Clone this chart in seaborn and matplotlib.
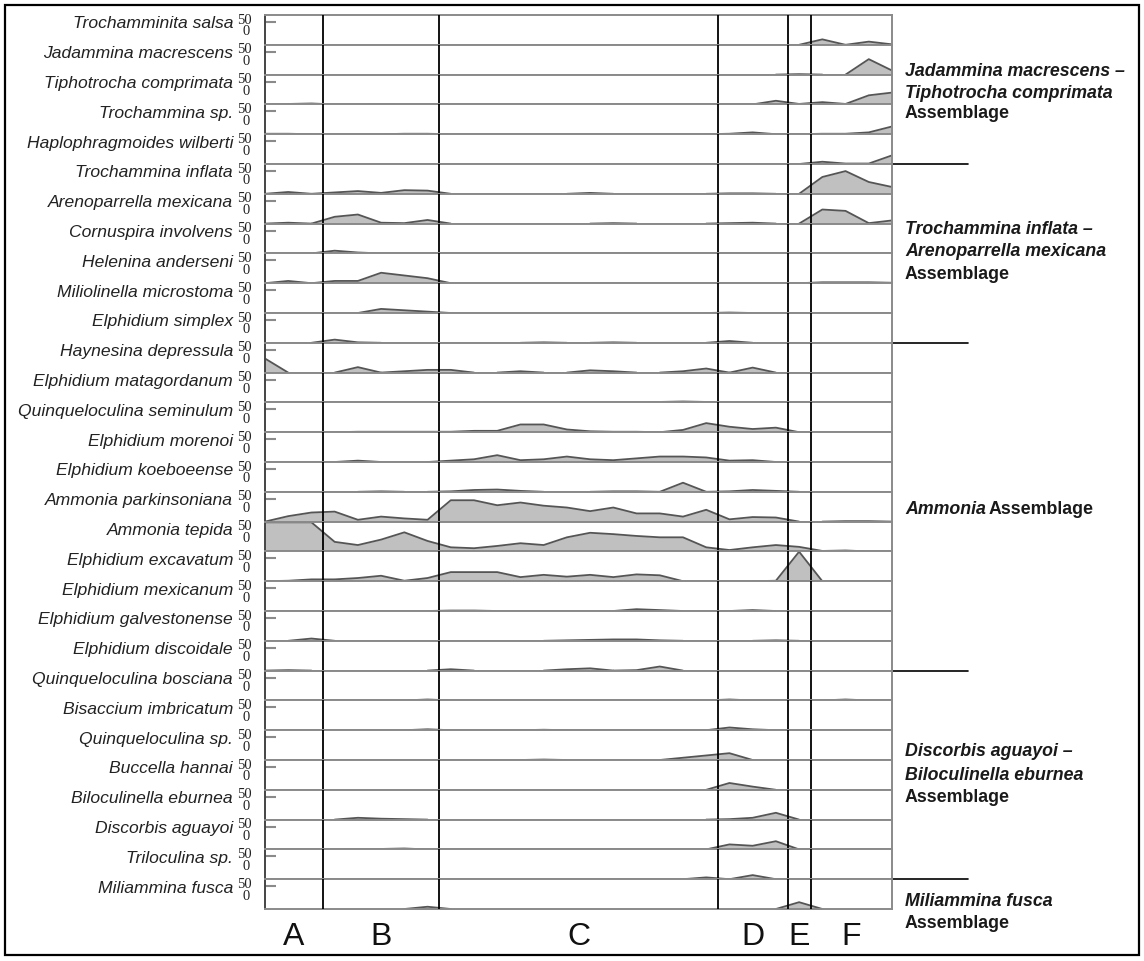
import numpy as np
import pandas as pd
import seaborn as sns
import matplotlib.pyplot as plt
from matplotlib.patches import Rectangle
from matplotlib.transforms import blended_transform_factory

# 28 samples along the transect, grouped in zones A-F
samples = np.arange(28)
zone_names = ['A', 'B', 'C', 'D', 'E', 'F']
zone_edges = [0, 2.5, 7.5, 19.5, 22.5, 23.5, 27]

# relative abundance (%) per sample          A        B              C                                  D        E   F
trochamminita_salsa      = [0, 0, 0,   0, 0, 0, 0, 0,   0, 0, 0, 0, 0, 0, 0, 0, 0, 0, 0, 0,   0, 0, 0,   0,   12, 0, 7, 1]
jadammina_macrescens     = [0, 0, 0,   0, 0, 0, 0, 0,   0, 0, 0, 0, 0, 0, 0, 0, 0, 0, 0, 0,   0, 0, 0,   1,   0, 0, 34, 9]
tiphotrocha_comprimata   = [0, 1, 2,   0, 0, 1, 0, 0,   0, 0, 0, 0, 0, 0, 0, 0, 0, 0, 0, 0,   0, 0, 8,   1,   5, 1, 20, 26]
trochammina_sp           = [1, 1, 0,   0, 0, 0, 1, 1,   0, 0, 0, 0, 0, 0, 0, 0, 0, 0, 0, 0,   1, 4, 0,   0,   1, 1, 4, 17]
haplophragmoides_wilb    = [0, 0, 0,   0, 0, 0, 0, 0,   0, 0, 0, 0, 0, 0, 0, 0, 0, 0, 0, 0,   0, 0, 0,   0,   5, 1, 1, 19]
trochammina_inflata      = [0, 4, 0,   3, 6, 2, 8, 7,   0, 0, 0, 0, 0, 0, 2, 0, 0, 0, 0, 0,   1, 1, 0,   0,   37, 50, 26, 15]
arenoparrella_mexicana   = [0, 2, 0,   15, 20, 2, 1, 8, 0, 0, 0, 0, 0, 0, 0, 1, 0, 0, 0, 0,   1, 2, 0,   0,   31, 28, 1, 7]
cornuspira_involvens     = [0, 0, 0,   6, 2, 0, 0, 0,   0, 0, 0, 0, 0, 0, 0, 0, 1, 0, 0, 0,   0, 0, 0,   0,   0, 0, 0, 0]
helenina_anderseni       = [0, 5, 0,   5, 5, 23, 17, 11, 0, 0, 0, 0, 0, 0, 0, 0, 0, 0, 0, 0,  0, 0, 0,   0,   2, 2, 2, 1]
miliolinella_microstoma  = [0, 0, 0,   0, 0, 9, 6, 3,   0, 0, 0, 0, 0, 0, 0, 0, 0, 0, 0, 0,   1, 0, 0,   0,   0, 0, 0, 0]
elphidium_simplex        = [0, 0, 0,   7, 1, 0, 0, 0,   0, 0, 0, 0, 1, 0, 0, 1, 0, 0, 0, 0,   4, 0, 0,   0,   0, 0, 0, 0]
haynesina_depressula     = [31, 0, 0,  0, 12, 0, 3, 6,  6, 0, 0, 3, 0, 0, 5, 3, 0, 0, 3, 9,   0, 11, 0,  0,   0, 0, 0, 0]
elphidium_matagordanum   = [0, 0, 0,   1, 0, 0, 0, 0,   1, 0, 1, 1, 1, 0, 0, 0, 0, 1, 2, 1,   0, 0, 0,   0,   0, 0, 0, 0]
quinqueloculina_seminulum = [0, 0, 0,  0, 1, 1, 1, 1,   1, 3, 3, 17, 17, 6, 2, 1, 1, 0, 5, 20, 12, 7, 10, 0,  0, 0, 0, 0]
elphidium_morenoi        = [0, 0, 0,   0, 3, 0, 0, 0,   3, 6, 15, 4, 6, 12, 6, 4, 8, 12, 12, 10, 3, 4, 0, 0,  0, 0, 0, 0]
elphidium_koeboeense     = [0, 0, 0,   0, 0, 1, 0, 0,   1, 4, 5, 2, 0, 0, 0, 1, 1, 0, 20, 0,  1, 4, 2,   0,   0, 0, 0, 0]
ammonia_parkinsoniana    = [0, 12, 20, 22, 4, 11, 7, 4, 47, 47, 36, 42, 35, 31, 23, 31, 18, 18, 11, 26, 5, 10, 9, 0, 0, 1, 1, 0]
ammonia_tepida           = [64, 64, 64, 21, 14, 26, 42, 23, 9, 7, 12, 18, 14, 31, 41, 38, 34, 31, 31, 9, 3, 9, 14, 10, 1, 2, 0, 0]
elphidium_excavatum      = [0, 1, 4,   4, 7, 12, 1, 7,  20, 20, 20, 9, 14, 10, 14, 9, 15, 13, 0, 0, 0, 0, 1, 65, 0, 0, 0, 0]
elphidium_mexicanum      = [0, 0, 0,   0, 0, 0, 0, 0,   1, 1, 0, 0, 0, 0, 0, 0, 4, 2, 0, 0,   0, 2, 0,   0,   0, 0, 0, 0]
elphidium_galvestonense  = [0, 0, 5,   0, 0, 0, 0, 0,   0, 0, 0, 0, 0, 1, 2, 3, 3, 1, 0, 0,   0, 0, 1,   0,   0, 0, 0, 0]
elphidium_discoidale     = [0, 1, 0,   0, 0, 0, 0, 0,   3, 0, 0, 0, 0, 3, 5, 0, 1, 9, 0, 0,   0, 0, 0,   0,   0, 0, 0, 0]
quinqueloculina_bosciana = [0, 0, 0,   0, 0, 0, 0, 2,   0, 0, 0, 0, 0, 0, 0, 0, 0, 0, 0, 0,   2, 0, 0,   0,   0, 2, 0, 0]
bisaccium_imbricatum     = [0, 0, 0,   0, 0, 0, 0, 2,   0, 0, 0, 0, 1, 0, 0, 0, 0, 0, 0, 0,   6, 2, 0,   0,   0, 0, 0, 0]
quinqueloculina_sp       = [0, 0, 0,   0, 0, 0, 0, 0,   0, 0, 0, 0, 1, 0, 0, 0, 0, 0, 5, 10,  15, 0, 0,  0,   0, 0, 0, 0]
buccella_hannai          = [0, 0, 0,   0, 0, 0, 0, 0,   0, 0, 0, 0, 0, 0, 0, 0, 0, 0, 0, 0,   15, 7, 0,  0,   0, 0, 0, 0]
biloculinella_eburnea    = [0, 0, 0,   0, 4, 2, 1, 0,   0, 0, 0, 0, 0, 0, 0, 0, 0, 0, 0, 0,   1, 4, 15,  0,   0, 0, 0, 0]
discorbis_aguayoi        = [0, 0, 0,   0, 1, 1, 2, 0,   0, 0, 0, 0, 0, 0, 0, 0, 0, 0, 0, 0,   11, 8, 18, 0,   0, 0, 0, 0]
triloculina_sp           = [0, 0, 0,   0, 0, 0, 0, 0,   0, 0, 0, 0, 0, 0, 0, 0, 0, 0, 0, 4,   0, 9, 0,   0,   0, 0, 0, 0]
miliammina_fusca         = [0, 0, 0,   0, 0, 0, 0, 5,   0, 0, 0, 0, 0, 0, 0, 0, 0, 0, 0, 0,   0, 0, 0,   15,  0, 0, 0, 0]

species = ['Trochamminita salsa', 'Jadammina macrescens', 'Tiphotrocha comprimata',
           'Trochammina sp.', 'Haplophragmoides wilberti', 'Trochammina inflata',
           'Arenoparrella mexicana', 'Cornuspira involvens', 'Helenina anderseni',
           'Miliolinella microstoma', 'Elphidium simplex', 'Haynesina depressula',
           'Elphidium matagordanum', 'Quinqueloculina seminulum', 'Elphidium morenoi',
           'Elphidium koeboeense', 'Ammonia parkinsoniana', 'Ammonia tepida',
           'Elphidium excavatum', 'Elphidium mexicanum', 'Elphidium galvestonense',
           'Elphidium discoidale', 'Quinqueloculina bosciana', 'Bisaccium imbricatum',
           'Quinqueloculina sp.', 'Buccella hannai', 'Biloculinella eburnea',
           'Discorbis aguayoi', 'Triloculina sp.', 'Miliammina fusca']
abundance = [trochamminita_salsa, jadammina_macrescens, tiphotrocha_comprimata,
             trochammina_sp, haplophragmoides_wilb, trochammina_inflata,
             arenoparrella_mexicana, cornuspira_involvens, helenina_anderseni,
             miliolinella_microstoma, elphidium_simplex, haynesina_depressula,
             elphidium_matagordanum, quinqueloculina_seminulum, elphidium_morenoi,
             elphidium_koeboeense, ammonia_parkinsoniana, ammonia_tepida,
             elphidium_excavatum, elphidium_mexicanum, elphidium_galvestonense,
             elphidium_discoidale, quinqueloculina_bosciana, bisaccium_imbricatum,
             quinqueloculina_sp, buccella_hannai, biloculinella_eburnea,
             discorbis_aguayoi, triloculina_sp, miliammina_fusca]

# assemblage labels (italic part); divider drawn below these rows
assemblage_1 = ['Jadammina macrescens –', 'Tiphotrocha comprimata']
assemblage_2 = ['Trochammina inflata –', 'Arenoparrella mexicana']
assemblage_3 = ['Ammonia']
assemblage_4 = ['Discorbis aguayoi –', 'Biloculinella eburnea']
assemblage_5 = ['Miliammina fusca']
divider_rows = [5, 11, 22, 29]

FILL = '#c0c0c0'
LINE = '#555555'
ROW = '#8a8a8a'

sns.set_style('white')
plt.rcParams['font.family'] = ['Liberation Sans', 'DejaVu Sans']

W, H = 1144, 961
fig = plt.figure(figsize=(W / 100, H / 100), dpi=100)
axes = fig.subplots(len(species), 1, sharex=True, gridspec_kw=dict(hspace=0))
fig.subplots_adjust(left=265 / W, right=892 / W, top=1 - 15 / H, bottom=1 - 909 / H)


def runs_frame(vals):
    # keep only the stretches with non-zero counts (plus their zero ends)
    v = np.asarray(vals, float)
    nz = v > 0
    rows, run, i, n = [], 0, 0, len(v)
    while i < n:
        if nz[i]:
            j = i
            while j < n and nz[j]:
                j += 1
            for k in range(max(i - 1, 0), min(j, n - 1) + 1):
                rows.append((run, samples[k], v[k]))
            run += 1
            i = j
        else:
            i += 1
    return pd.DataFrame(rows, columns=['run', 'sample', 'pct'])


for ax, name, vals in zip(axes, species, abundance):
    ax.fill_between(samples, vals, color=FILL, lw=0, zorder=1)
    d = runs_frame(vals)
    if len(d):
        sns.lineplot(data=d, x='sample', y='pct', units='run', estimator=None,
                     sort=False, color=LINE, lw=1.3, ax=ax, legend=False, zorder=2)
    ax.set_xlim(0, 27)
    ax.set_ylim(0, 65.6)
    ax.set_xlabel('')
    ax.set_ylabel('')
    ax.set_xticks([])
    ax.set_yticks([50])
    ax.tick_params(axis='y', direction='in', length=8, width=1.5, color=ROW,
                   labelleft=False, left=True)
    for s in ax.spines.values():
        s.set_color(ROW)
        s.set_linewidth(1.4)
    ax.spines['left'].set_color('#444444')
    for b in zone_edges[1:-1]:
        ax.axvline(b, color='black', lw=1.3, zorder=4)
    ax.text(-0.051, 0.70, name, transform=ax.transAxes, ha='right', va='center',
            fontsize=12.6, style='italic', color='#222222')
    ax.text(-0.021, 0.83, '50', transform=ax.transAxes, ha='right', va='center',
            fontsize=10.5, family='Liberation Serif', color='#222222')
    ax.text(-0.024, 0.43, '0', transform=ax.transAxes, ha='right', va='center',
            fontsize=10.5, family='Liberation Serif', color='#222222')

# dividers between assemblages
for r in divider_rows:
    axes[r - 1].plot([1, 1 + 76 / 627], [0, 0], transform=axes[r - 1].transAxes,
                     color='black', lw=1.2, clip_on=False)

# zone letters
trans = blended_transform_factory(axes[-1].transData, fig.transFigure)
for i, z in enumerate(zone_names):
    mid = (zone_edges[i] + zone_edges[i + 1]) / 2
    axes[-1].text(mid, 1 - 937 / H, z, transform=trans, ha='center', va='center',
                  fontsize=23, color='#111111')

# assemblage annotations
tx = 905 / W
ann = dict(fontsize=12.8, fontweight='bold', color='#1a1a1a', va='center', ha='left')
blocks = [(assemblage_1, [72, 93], 114), (assemblage_2, [229, 252], 274),
          (assemblage_4, [752, 775], 797), (assemblage_5, [901], 923)]
for lines, ys, y_last in blocks:
    for txt, y in zip(lines, ys):
        fig.text(tx, 1 - y / H, txt, style='italic', **ann)
    fig.text(tx, 1 - y_last / H, 'Assemblage', **ann)

t = fig.text(tx, 1 - 509 / H, assemblage_3[0], style='italic', **ann)
fig.canvas.draw()
bb = t.get_window_extent(fig.canvas.get_renderer())
fig.text((bb.x1 + 3) / W, 1 - 509 / H, 'Assemblage', **ann)

# outer frame
fig.add_artist(Rectangle((5 / W, 1 - 955 / H), 1134 / W, 950 / H, transform=fig.transFigure,
                         fill=False, lw=1.6, ec='black'))

fig.savefig('out.png', dpi=100, facecolor='white')
